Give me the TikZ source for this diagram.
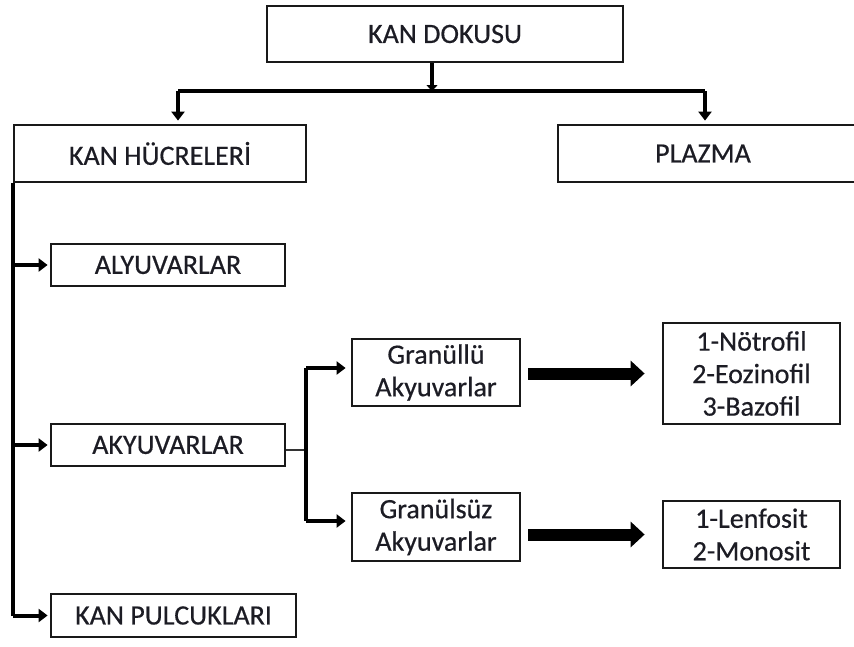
\documentclass[tikz,border=0pt]{standalone}
\usepackage{fontspec}
\setmainfont{Carlito}[FakeBold=0.5]
\usetikzlibrary{arrows.meta}
\definecolor{txt}{RGB}{28,28,36}
\tikzset{
  box/.style={draw=black!90, line width=2.8pt, inner sep=0pt, align=center,
    font=\fontsize{28}{32.5}\selectfont, text=txt},
  conn/.style={draw=black, line width=4pt},
  sarrow/.style={conn, -{Triangle[length=9pt,width=13pt]}},
  bigarrow/.style={draw=black, line width=12pt, -{Triangle[length=14pt,width=25pt]}},
}
\begin{document}
\begin{tikzpicture}[x=1pt,y=-1pt]
\useasboundingbox (0,0) rectangle (854,646);
% boxes
\node[box, minimum width=356pt, minimum height=56pt] (top) at (445,34) {KAN DOKUSU};
\node[box, minimum width=292pt, minimum height=57pt] (kh) at (160,153.5) {KAN HÜCRELERİ};
\node[box, minimum width=306pt, minimum height=57pt] (plazma) at (711,153.5) {PLAZMA\hspace*{16pt}};
\node[box, minimum width=234pt, minimum height=42pt] (alyuv) at (168,265) {ALYUVARLAR};
\node[box, minimum width=234pt, minimum height=42pt] (akyuv) at (168,445) {AKYUVARLAR};
\node[box, minimum width=245pt, minimum height=43pt] (kp) at (173.5,615.5) {KAN PULCUKLARI};
\node[box, minimum width=168pt, minimum height=67pt] (granullu) at (436,372.5) {Granüllü\\Akyuvarlar};
\node[box, minimum width=168pt, minimum height=68pt] (granulsuz) at (436,527) {Granülsüz\\Akyuvarlar};
\node[box, minimum width=177pt, minimum height=101pt] (notro) at (751.5,373.5) {1-Nötrofil\\2-Eozinofil\\3-Bazofil};
\node[box, minimum width=177pt, minimum height=67pt] (lenf) at (751.5,534.5) {1-Lenfosit\\2-Monosit};
% top connectors
\coordinate (hj) at (432,91);
\coordinate (bl) at (178,91);
\coordinate (br) at (705,91);
\draw[conn, line width=3.4pt] (bl) -- (br);
\draw[conn, -{Triangle[length=6pt,width=11pt]}] (top.south -| hj) -- (hj);
\draw[sarrow, shorten >=3pt] (bl) -- (bl |- kh.north);
\draw[sarrow, shorten >=3pt] (br) -- (br |- plazma.north);
% left spine
\draw[conn] (kh.south west) -- (kh.south west |- kp);
\draw[sarrow, shorten >=2pt] (kh.south west |- alyuv) -- (alyuv.west);
\draw[sarrow, shorten >=2pt] (kh.south west |- akyuv) -- (akyuv.west);
\draw[sarrow, shorten >=2pt] (kh.south west |- kp) -- (kp.west);
% akyuvarlar branch
\coordinate (sp) at (306,450);
\coordinate (ga) at (306,368);
\coordinate (gb) at (306,521);
\draw[draw=black!80, line width=1.8pt] (akyuv.east |- sp) -- (sp);
\draw[conn] (ga) -- (gb);
\draw[sarrow, shorten >=5pt] (ga) -- (ga -| granullu.west);
\draw[sarrow, shorten >=5pt] (gb) -- (gb -| granulsuz.west);
% big arrows
\draw[bigarrow, shorten <=7pt, shorten >=17pt] (granullu.east |- notro) -- (notro.west);
\draw[bigarrow, shorten <=7pt, shorten >=17pt] (granulsuz.east |- lenf) -- (lenf.west);
\end{tikzpicture}
\end{document}
